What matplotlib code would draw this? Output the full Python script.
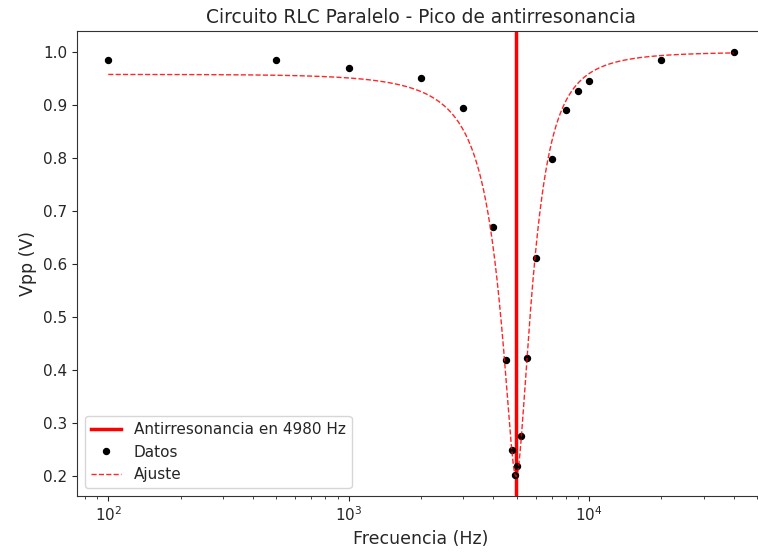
import numpy as np
import matplotlib
matplotlib.use("Agg")
import matplotlib.pyplot as plt

# Measured data
freq_hz = [100, 500, 1000, 2000, 3000, 4000, 4500, 4800, 4900, 5000,
           5200, 5500, 6000, 7000, 8000, 9000, 10000, 20000, 40000]
vpp_v = [0.985, 0.985, 0.970, 0.951, 0.894, 0.669, 0.418, 0.248, 0.202, 0.218,
         0.275, 0.422, 0.612, 0.798, 0.890, 0.926, 0.945, 0.985, 1.000]

# Fit model parameters (series resistor + parallel LC tank with lossy inductor)
V0_fit = 1.0
R_fit = 1000.0
r_fit = 43.8
L_fit = 0.0134
C_fit = 76.3e-9
f_antires = 4980

title = "Circuito RLC Paralelo - Pico de antirresonancia"
xlabel = "Frecuencia (Hz)"
ylabel = "Vpp (V)"
lbl_line = "Antirresonancia en 4980 Hz"
lbl_data = "Datos"
lbl_fit = "Ajuste"


def model(f):
    w = 2 * np.pi * f
    zl = r_fit + 1j * w * L_fit
    zc = 1 / (1j * w * C_fit)
    zt = zl * zc / (zl + zc)
    return V0_fit * np.abs(R_fit / (R_fit + zt))


f_fit = np.logspace(np.log10(min(freq_hz)), np.log10(max(freq_hz)), 2000)
v_fit = model(f_fit)

txt = "#262626"
plt.rcParams.update({
    "font.family": "DejaVu Sans",
    "text.color": txt,
    "axes.labelcolor": txt,
    "xtick.color": txt,
    "ytick.color": txt,
    "axes.edgecolor": "#333333",
})

fig = plt.figure(figsize=(7.58, 5.55), dpi=100)
ax = fig.add_axes([77 / 758, (555 - 496) / 555, (765 - 77) / 758, (496 - 31) / 555])

ax.axvline(f_antires, color="red", lw=2.5, label=lbl_line)
ax.plot(freq_hz, vpp_v, "o", color="black", ms=4.3, label=lbl_data)
ax.plot(f_fit, v_fit, "--", color="red", lw=1.0, alpha=0.85, label=lbl_fit)

ax.set_xscale("log")
ax.set_ylim(0.162, 1.04)
ax.set_title(title, fontsize=13.4)
ax.set_xlabel(xlabel, fontsize=12.5)
ax.set_ylabel(ylabel, fontsize=12.5)
ax.tick_params(axis="both", which="major", labelsize=11)
ax.legend(loc="lower left", fontsize=11)

fig.savefig("out.png", dpi=100)
